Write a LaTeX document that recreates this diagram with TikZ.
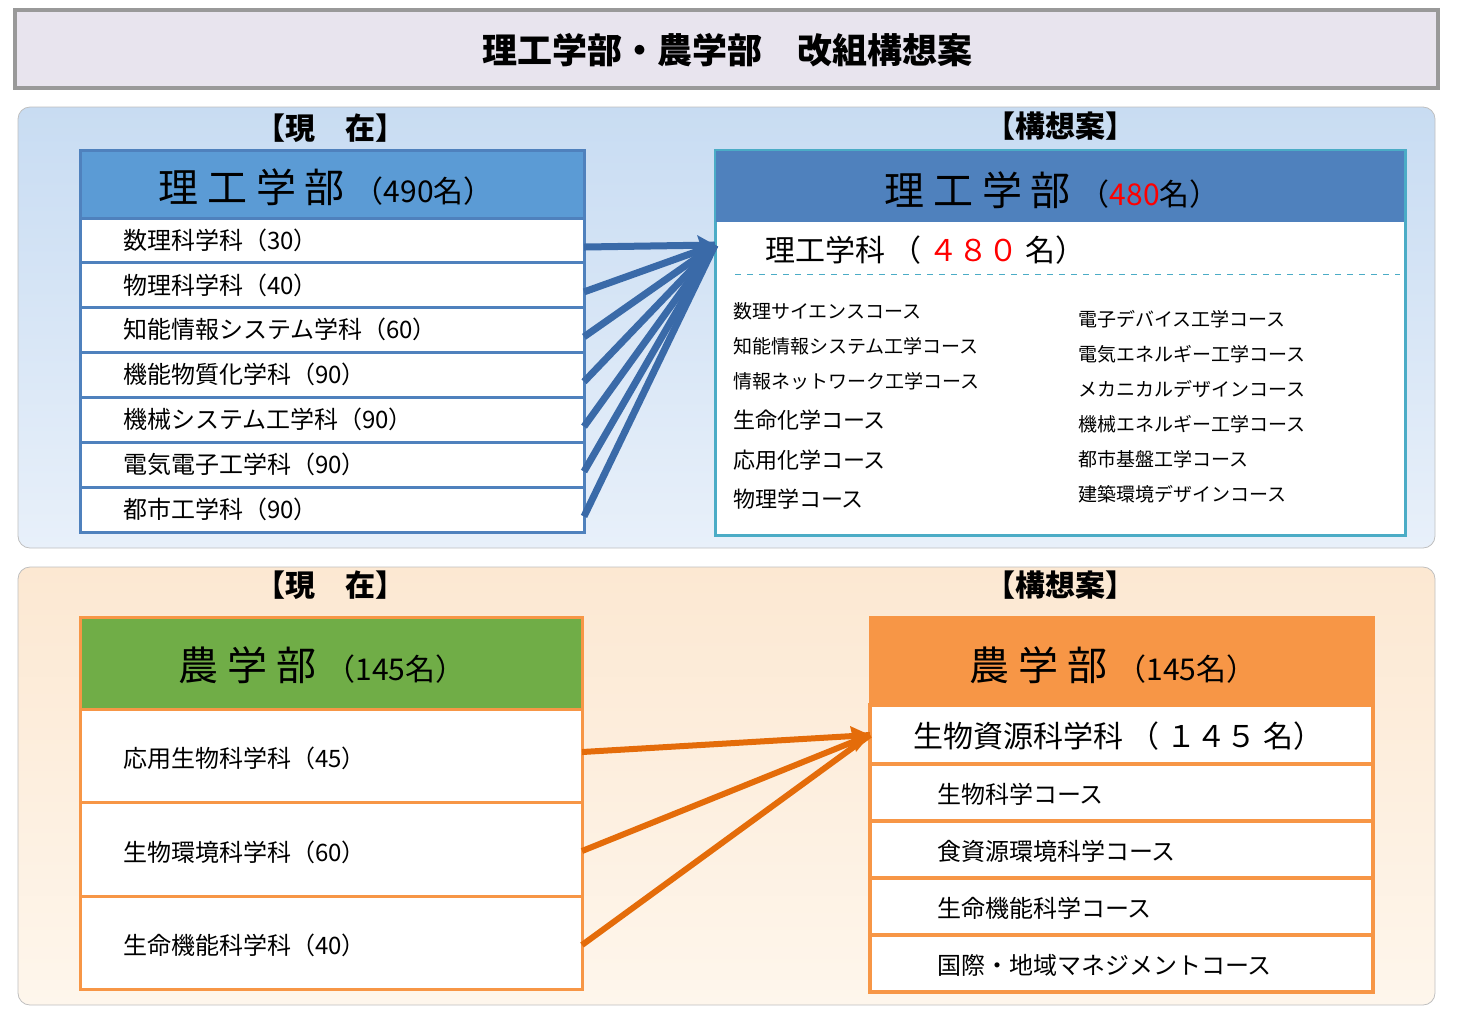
\documentclass[tikz,border=0pt]{standalone}
\usepackage{fontspec}
\setmainfont{Noto Sans CJK JP}
\usetikzlibrary{arrows.meta}
\definecolor{hdblue}{HTML}{5B9BD5}
\definecolor{hdblue2}{HTML}{4F81BD}
\definecolor{lnblue}{HTML}{3A6AA8}
\definecolor{bdblue}{HTML}{4BACC6}
\definecolor{hdgreen}{HTML}{70AD47}
\definecolor{hdorange}{HTML}{F79646}
\definecolor{lnorange}{HTML}{E46C0A}
\tikzset{
  rowbox/.style={draw=#1, line width=1.5pt, fill=white, anchor=north west, inner sep=0pt},
  rowtext/.style={anchor=west, font=\fontsize{12}{12}\selectfont},
  small/.style={anchor=west, font=\fontsize{9.5}{10}\selectfont},
  mid/.style={anchor=west, font=\fontsize{11}{11}\selectfont},
}
\begin{document}
\begin{tikzpicture}[x=0.5pt,y=-0.5pt]
  \useasboundingbox (0,0) rectangle (1459,1009);
  % Title
  \draw[gray!80, line width=2pt, fill={rgb,255:red,232;green,228;blue,238}] (15,10) rectangle (1438,88);
  \node[font=\bfseries\fontsize{17.5}{17.5}\selectfont] (title) at (727,50) {理工学部・農学部　改組構想案};

  % Panels
  \shade[top color={rgb,255:red,200;green,220;blue,242}, bottom color={rgb,255:red,232;green,240;blue,250}, draw=gray!50, rounded corners=6pt] (18,107) rectangle (1435,548);
  \shade[top color={rgb,255:red,252;green,232;blue,210}, bottom color={rgb,255:red,254;green,246;blue,236}, draw=gray!50, rounded corners=6pt] (18,567) rectangle (1435,1005);

  \node[font=\bfseries\fontsize{15}{15}\selectfont] (nowA) at (330,128) {【現　在】};
  \node[font=\bfseries\fontsize{15}{15}\selectfont] (planA) at (1060,126) {【構想案】};
  \node[font=\bfseries\fontsize{15}{15}\selectfont] (nowB) at (330,585) {【現　在】};
  \node[font=\bfseries\fontsize{15}{15}\selectfont] (planB) at (1060,585) {【構想案】};

  % Left: science & engineering
  \draw[hdblue2, line width=1.5pt, fill=hdblue] (80,150) rectangle (584,218);
  \node[font=\fontsize{20}{20}\selectfont] (riko) at (326,187) {理 工 学 部 \fontsize{15}{15}\selectfont（490名）};
  \foreach \t [count=\i from 0] in {数理科学科（30）,物理科学科（40）,知能情報システム学科（60）,機能物質化学科（90）,機械システム工学科（90）,電気電子工学科（90）,都市工学科（90）} {
    \draw[hdblue2, line width=1.5pt, fill=white] (80,218+44.9*\i) rectangle (584,218+44.9*\i+44.9);
    \node[rowtext] (r\i) at (116,240+44.9*\i) {\t};
  }

  % Right: science & engineering
  \draw[bdblue, line width=1.5pt, fill=white] (715,150) rectangle (1405,535);
  \fill[hdblue2] (716,151) rectangle (1404,222);
  \node[font=\fontsize{20}{20}\selectfont] (rikoN) at (1052,190) {理 工 学 部 \fontsize{15}{15}\selectfont（\textcolor{red}{480}名）};
  \node[font=\fontsize{15}{15}\selectfont, anchor=west] (rikoka) at (758,250) {理工学科 （ \textcolor{red}{４８０} 名）};
  \draw[bdblue, dashed] (735,274) -- (1400,274);
  \coordinate (tipA) at (715,245);
  \foreach \t/\y in {数理サイエンスコース/311,知能情報システム工学コース/346,情報ネットワーク工学コース/381}
    \node[small] at (726,\y) {\t};
  \foreach \t/\y in {生命化学コース/420,応用化学コース/460,物理学コース/499}
    \node[mid] at (726,\y) {\t};
  \foreach \t/\y in {電子デバイス工学コース/319,電気エネルギー工学コース/354,メカニカルデザインコース/389,機械エネルギー工学コース/424,都市基盤工学コース/459,建築環境デザインコース/494}
    \node[small] at (1071,\y) {\t};

  % Arrows
  \foreach \i in {0,...,6}
    \draw[lnblue, line width=3.5pt] (584,247+44.9*\i) -- (tipA);
  \fill[lnblue] (tipA) -- (697,235) -- (706,262) -- cycle;

  % Left: agriculture
  \draw[hdorange, line width=1.5pt, fill=hdgreen] (80,617) rectangle (582,709);
  \node[font=\fontsize{20}{20}\selectfont] (noA) at (322,665) {農 学 部 \fontsize{15}{15}\selectfont（145名）};
  \foreach \t/\a/\b [count=\i] in {応用生物科学科（45）/709/802,生物環境科学科（60）/802/896,生命機能科学科（40）/896/989} {
    \draw[hdorange, line width=1.5pt, fill=white] (80,\a) rectangle (582,\b);
    \node[rowtext] (a\i) at (116,{(\a+\b)/2+3}) {\t};
  }

  % Right: agriculture
  \draw[hdorange, line width=1.5pt, fill=hdorange] (870,617) rectangle (1373,705);
  \node[font=\fontsize{20}{20}\selectfont] (noB) at (1113,665) {農 学 部 \fontsize{15}{15}\selectfont（145名）};
  \draw[hdorange, line width=2pt, fill=white] (870,705) rectangle (1373,764);
  \node[font=\fontsize{15}{15}\selectfont, anchor=west] (seibutsu) at (906,736) {生物資源科学科 （ １４５ 名）};
  \foreach \t/\a [count=\i] in {生物科学コース/764,食資源環境科学コース/821,生命機能科学コース/878,国際・地域マネジメントコース/935} {
    \draw[hdorange, line width=2pt, fill=white] (870,\a) rectangle (1373,\a+57);
    \node[rowtext] (c\i) at (930,\a+30) {\t};
  }
  \coordinate (tipB) at (870,735);
  \draw[lnorange, line width=3pt] (582,752) -- (tipB);
  \draw[lnorange, line width=3pt] (582,851) -- (tipB);
  \draw[lnorange, line width=3pt] (582,945) -- (tipB);
  \fill[lnorange] (tipB) -- (850,726) -- (856,752) -- cycle;
\end{tikzpicture}
\end{document}
